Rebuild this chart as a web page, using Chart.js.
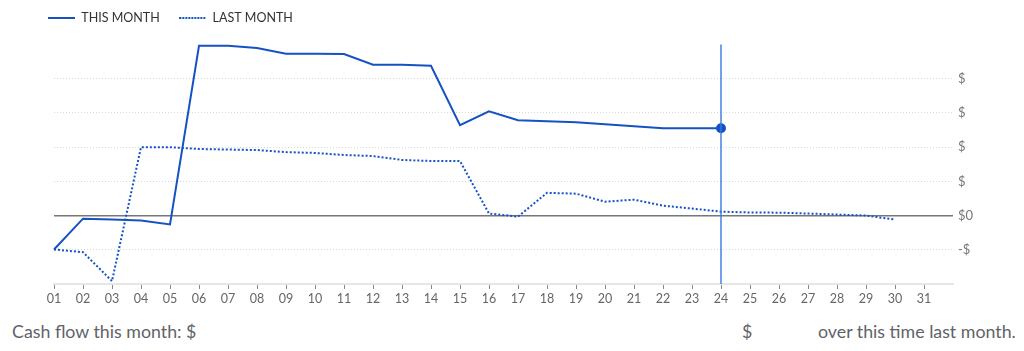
<!DOCTYPE html>
<html lang="en">
<head>
<meta charset="utf-8">
<title>Cash flow</title>
<script src="https://cdn.jsdelivr.net/npm/chart.js@4.4.1/dist/chart.umd.min.js"></script>
<style>
  body { margin: 0; background: #fff; font-family: Lato, "Noto Sans", sans-serif; }
  #chart-box { position: relative; width: 1024px; height: 308px; }
  #summary { position: relative; width: 1024px; height: 43px; color: #5f6368; font-size: 17.8px; }
  #summary span { position: absolute; top: 12px; }
</style>
</head>
<body>
<div id="chart-box"><canvas id="cashChart"></canvas></div>
<div id="summary">
  <span style="left:12px">Cash flow this month: $</span>
  <span style="left:742px">$</span>
  <span style="left:818px">over this time last month.</span>
</div>

<script>
// day labels, last slot is an empty spacer
const days = ['01','02','03','04','05','06','07','08','09','10','11','12','13','14','15','16',
  '17','18','19','20','21','22','23','24','25','26','27','28','29','30','31',''];

// running cash flow, this month (up to today = day 24)
const thisMonth = [-990, -90, -115, -145, -260, 4960, 4960, 4900, 4730, 4730, 4720, 4410,
  4410, 4380, 2640, 3045, 2785, 2755, 2725, 2670, 2610, 2550, 2550, 2550];

// running cash flow, last month
const lastMonth = [-990, -1070, -1915, 2000, 2000, 1945, 1930, 1915, 1855, 1830, 1770, 1740,
  1625, 1595, 1595, 60, -30, 665, 640, 405, 465, 290, 205, 115, 90, 85, 60, 30, 0, -115];

const todayIndex = 23;
const yMin = -2000, yMax = 5000, yStep = 1000;

const blue = '#1552c4';

// small legend swatches: solid and dotted line
function swatch(dotted) {
  const c = document.createElement('canvas');
  c.width = 27; c.height = 2;
  const g = c.getContext('2d');
  g.fillStyle = blue;
  if (!dotted) {
    g.fillRect(0, 0, 27, 2);
  } else {
    for (let x = 0; x < 27; x += 3) g.fillRect(x, 0, 2, 2);
  }
  return c;
}
const swatches = [swatch(false), swatch(true)];

// thin marker line at today's position
const todayLine = {
  id: 'todayLine',
  afterDatasetsDraw(chart) {
    const x = chart.scales.x.getPixelForValue(todayIndex);
    const a = chart.chartArea;
    const ctx = chart.ctx;
    ctx.save();
    ctx.strokeStyle = '#3a78e0';
    ctx.lineWidth = 1.4;
    ctx.beginPath();
    ctx.moveTo(x, a.top);
    ctx.lineTo(x, a.bottom);
    ctx.stroke();
    ctx.restore();
  }
};

// give the legend some extra room underneath
const legendGap = {
  id: 'legendGap',
  beforeLayout(chart) {
    const lg = chart.legend;
    if (lg && !lg._gapPatched) {
      const fit = lg.fit.bind(lg);
      lg.fit = function () { fit(); this.height += 10; };
      lg._gapPatched = true;
    }
  }
};

new Chart(document.getElementById('cashChart'), {
  type: 'line',
  data: {
    labels: days,
    datasets: [{
      label: 'THIS MONTH',
      data: thisMonth,
      borderColor: blue,
      backgroundColor: blue,
      borderWidth: 2,
      tension: 0,
      pointRadius: (c) => c.dataIndex === todayIndex ? 4 : 0,
      pointHoverRadius: 0
    }, {
      label: 'LAST MONTH',
      data: lastMonth,
      borderColor: blue,
      backgroundColor: blue,
      borderWidth: 2,
      borderDash: [2, 2],
      tension: 0,
      pointRadius: 0
    }]
  },
  options: {
    responsive: true,
    maintainAspectRatio: false,
    animation: false,
    layout: { padding: { left: 38, top: 2, right: 0, bottom: 0 } },
    plugins: {
      tooltip: { enabled: false },
      legend: {
        align: 'start',
        labels: {
          usePointStyle: true,
          pointStyleWidth: 27,
          boxHeight: 12,
          padding: 10,
          color: '#333',
          font: { family: 'Lato', size: 12.5 },
          generateLabels(chart) {
            const items = Chart.defaults.plugins.legend.labels.generateLabels(chart);
            items.forEach((it, i) => {
              it.text = i === 0 ? it.text + '   ' : it.text;
              it.pointStyle = swatches[i];
            });
            return items;
          }
        }
      }
    },
    scales: {
      x: {
        offset: false,
        grid: {
          drawOnChartArea: false,
          drawTicks: true,
          tickLength: 5,
          tickColor: (c) => c.index === days.length - 1 ? 'rgba(0,0,0,0)' : '#888'
        },
        border: { display: true, color: '#e6e6e6', width: 2 },
        ticks: {
          autoSkip: false,
          maxRotation: 0,
          padding: 2,
          color: '#666',
          font: { family: 'Lato', size: 12.5 }
        }
      },
      yl: {
        position: 'left',
        display: true,
        grid: { display: false },
        border: { display: false },
        ticks: { display: false },
        afterFit(scale) { scale.width = 16; }
      },
      y: {
        position: 'right',
        min: yMin,
        max: yMax,
        grid: {
          drawTicks: false,
          color: (c) => {
            const v = c.tick.value;
            if (v === 0) return '#777';
            if (v === yMax || v === yMin) return 'rgba(0,0,0,0)';
            return '#d8d8d8';
          },
          lineWidth: (c) => c.tick.value === 0 ? 1.5 : 1
        },
        border: {
          display: false,
          dash: (c) => c.tick && c.tick.value === 0 ? [] : [1, 2]
        },
        ticks: {
          stepSize: yStep,
          padding: 5,
          color: '#777',
          font: { family: 'Lato', size: 13 },
          callback(v) {
            if (v === 0) return '$0';
            if (v === yMax || v === yMin) return '';
            return v < 0 ? '-$' : '$';
          }
        },
        afterFit(scale) { scale.width = 71; }
      }
    }
  },
  plugins: [todayLine, legendGap]
});
</script>
</body>
</html>
